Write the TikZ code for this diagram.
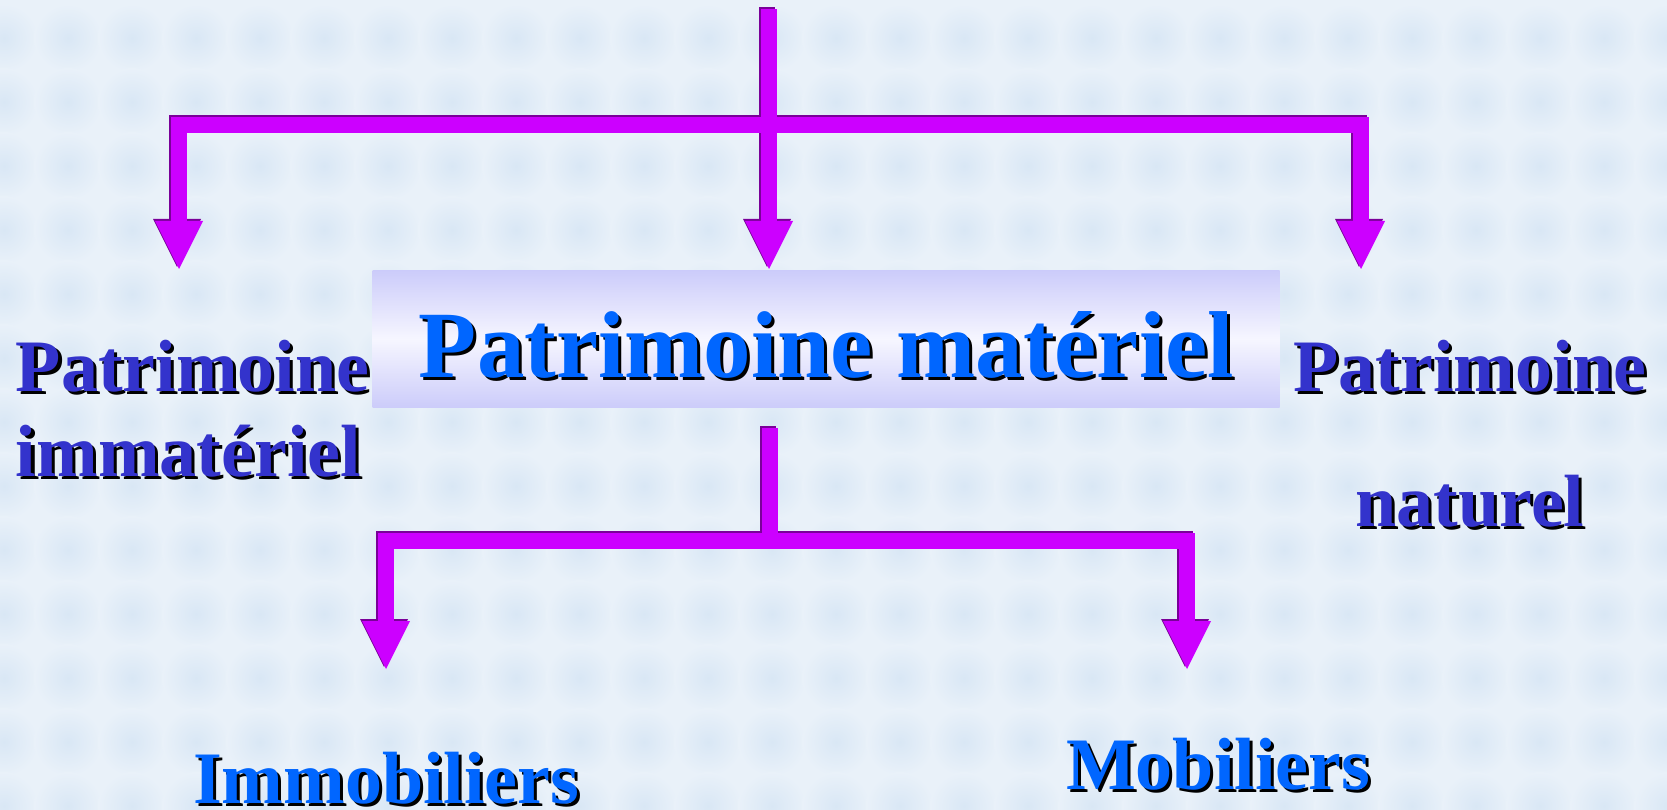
\documentclass[tikz,border=0pt]{standalone}
\usepackage{fontspec}
\setmainfont{Liberation Serif}
\usetikzlibrary{calc}
\definecolor{bg}{HTML}{E9F1F9}
\definecolor{blob}{HTML}{D9E7F5}
\definecolor{arrowfill}{HTML}{CC00FF}
\definecolor{arrowedge}{HTML}{7A0099}
\definecolor{titleblue}{HTML}{0066FF}
\definecolor{sideblue}{HTML}{3333CC}
\definecolor{boxedge}{HTML}{CCCCFA}
\definecolor{boxmid}{HTML}{F6F6FF}
\tikzset{
  bigtext/.style={font=\bfseries\fontsize{95}{100}\selectfont, inner sep=0pt, outer sep=0pt},
  midtext/.style={font=\bfseries\fontsize{74}{80}\selectfont, inner sep=0pt, outer sep=0pt},
  barline/.style={line width=16pt, line cap=rect},
}
\newcommand\headat[2]{% #1 tip name, #2 colour
  \fill[#2] ($(#1)+(-24,-48)$) -- ($(#1)+(24,-48)$) -- (#1) -- cycle;}
\newcommand\connectors[1]{%
  \draw[barline, #1] (top) -- (hubA) (L1) -- (R1)
     (L1) -- ($(tipL1)+(0,-48)$) (hubA) -- ($(tipM1)+(0,-48)$) (R1) -- ($(tipR1)+(0,-48)$);
  \headat{tipL1}{#1}\headat{tipM1}{#1}\headat{tipR1}{#1}
  \draw[barline, #1] (top2) -- (hubB) (L2) -- (R2)
     (L2) -- ($(tipL2)+(0,-48)$) (R2) -- ($(tipR2)+(0,-48)$);
  \headat{tipL2}{#1}\headat{tipR2}{#1}}
\begin{document}
\begin{tikzpicture}[x=1pt,y=-1pt]
  \useasboundingbox (0,0) rectangle (1667,810);
  \fill[bg] (0,0) rectangle (1667,810);
  % faint background texture
  \begin{scope}
    \clip (0,0) rectangle (1667,810);
    \foreach \i in {0,...,26} {
      \foreach \j in {0,...,12} {
        \shade[inner color=blob, outer color=bg] (4+64*\i,38+64*\j) circle (34);
      }
    }
  \end{scope}

  % connector coordinates
  \coordinate (top) at (769,17);
  \coordinate (hubA) at (769,125);
  \coordinate (L1) at (179,125);
  \coordinate (R1) at (1361,125);
  \coordinate (tipL1) at (179,269);
  \coordinate (tipM1) at (769,269);
  \coordinate (tipR1) at (1361,269);
  \coordinate (top2) at (770,436);
  \coordinate (hubB) at (770,541);
  \coordinate (L2) at (386,541);
  \coordinate (R2) at (1187,541);
  \coordinate (tipL2) at (386,669);
  \coordinate (tipR2) at (1187,669);

  \begin{scope}[transform canvas={shift={(-2pt,2pt)}}]
    \connectors{arrowedge}
  \end{scope}
  \connectors{arrowfill}

  % central box
  \node[shade, top color=boxedge, bottom color=boxedge, middle color=boxmid,
        minimum width=907pt, minimum height=136pt, inner sep=0pt] (box) at (826,339) {};

  \node[bigtext, text=black, anchor=base] (titleS) at (829.5,380) {Patrimoine matériel};
  \node[bigtext, text=titleblue, anchor=base] (title) at (826.5,377) {Patrimoine matériel};

  % left label
  \node[midtext, text=black, anchor=base west] (immA) at (19,394) {Patrimoine};
  \node[midtext, text=sideblue, anchor=base west] (imm) at (16,391) {Patrimoine};
  \node[midtext, text=black, anchor=base west] (imm2S) at (19,479) {immatériel};
  \node[midtext, text=sideblue, anchor=base west] (imm2) at (16,476) {immatériel};

  % right label
  \node[midtext, text=black, anchor=base] (natS) at (1473,394) {Patrimoine};
  \node[midtext, text=sideblue, anchor=base] (nat) at (1470,391) {Patrimoine};
  \node[midtext, text=black, anchor=base] (nat2S) at (1473,529) {naturel};
  \node[midtext, text=sideblue, anchor=base] (nat2) at (1470,526) {naturel};

  % bottom labels
  \node[midtext, text=black, anchor=base west] (immoS) at (196,806) {Immobiliers};
  \node[midtext, text=titleblue, anchor=base west] (immo) at (193,803) {Immobiliers};
  \node[midtext, text=black, anchor=base west] (mobS) at (1069,792) {Mobiliers};
  \node[midtext, text=titleblue, anchor=base west] (mob) at (1066,789) {Mobiliers};
\end{tikzpicture}
\end{document}
